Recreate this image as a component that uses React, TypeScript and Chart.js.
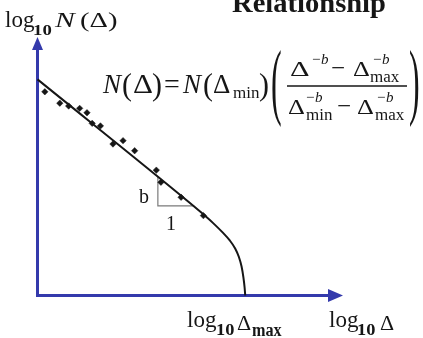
import React, { useEffect, useRef } from 'react';
import { Chart, registerables } from 'chart.js';

Chart.register(...registerables);

// Fitted curve (log10 Δ vs log10 N(Δ)), abstract units
const curveX = [0, 5.0, 5.4, 5.75, 6.05, 6.3, 6.47, 6.59, 6.68, 6.74, 6.78, 6.8];
const curveY = [8.36, 3.57, 3.17, 2.8, 2.45, 2.12, 1.82, 1.5, 1.12, 0.7, 0.3, 0];

// Observed data points (diamonds)
const obsX = [0.24, 0.73, 1.02, 1.38, 1.62, 1.79, 2.06, 2.47, 2.8, 3.18, 3.89, 4.04, 4.7, 5.43];
const obsY = [7.88, 7.44, 7.33, 7.24, 7.07, 6.66, 6.56, 5.86, 5.99, 5.6, 4.85, 4.38, 3.8, 3.09];

// Slope triangle
const triX = [3.94, 3.94, 5.13];
const triY = [4.6, 3.47, 3.47];

// Axis extents
const axisMin = 0;
const axisMax = 10;

const SERIF = '"Liberation Serif", "DejaVu Serif", serif';
const AXIS_BLUE = 'rgb(52, 58, 172)';
const INK = '#161616';

function txt(
  ctx: CanvasRenderingContext2D,
  s: string,
  x: number,
  y: number,
  size: number,
  o: { italic?: boolean; bold?: boolean; sx?: number; align?: CanvasTextAlign } = {}
) {
  ctx.save();
  ctx.font = `${o.italic ? 'italic ' : ''}${o.bold ? 'bold ' : ''}${size}px ${SERIF}`;
  ctx.fillStyle = INK;
  ctx.textBaseline = 'alphabetic';
  ctx.textAlign = o.align || 'left';
  ctx.translate(x, y);
  ctx.scale(o.sx || 1, 1);
  ctx.fillText(s, 0, 0);
  ctx.restore();
}

function paren(ctx: CanvasRenderingContext2D, ch: string, x: number, yTop: number, yBot: number, size = 30) {
  ctx.save();
  ctx.font = `${size}px ${SERIF}`;
  ctx.fillStyle = INK;
  ctx.textBaseline = 'alphabetic';
  const m = ctx.measureText(ch);
  const asc = m.actualBoundingBoxAscent;
  const desc = m.actualBoundingBoxDescent;
  const sc = (yBot - yTop) / (asc + desc);
  ctx.translate(x, yTop);
  ctx.scale(1, sc);
  ctx.fillText(ch, 0, asc);
  ctx.restore();
}

const overlay = {
  id: 'overlay',
  beforeDatasetsDraw(chart: any) {
    const ctx: CanvasRenderingContext2D = chart.ctx;
    const xs = chart.scales.x;
    const ys = chart.scales.y;
    const x0 = xs.getPixelForValue(axisMin);
    const y0 = ys.getPixelForValue(axisMin);
    const xTip = xs.getPixelForValue(axisMax);
    const yTip = ys.getPixelForValue(axisMax);
    ctx.save();
    ctx.strokeStyle = AXIS_BLUE;
    ctx.fillStyle = AXIS_BLUE;
    ctx.lineWidth = 3;
    ctx.lineCap = 'butt';
    ctx.beginPath();
    ctx.moveTo(x0, yTip + 10);
    ctx.lineTo(x0, y0);
    ctx.lineTo(xTip - 12, y0);
    ctx.stroke();
    // y arrow head
    ctx.beginPath();
    ctx.moveTo(x0, yTip);
    ctx.lineTo(x0 - 5.5, yTip + 13);
    ctx.lineTo(x0 + 5.5, yTip + 13);
    ctx.closePath();
    ctx.fill();
    // x arrow head
    ctx.beginPath();
    ctx.moveTo(xTip, y0);
    ctx.lineTo(xTip - 15, y0 - 6.5);
    ctx.lineTo(xTip - 15, y0 + 6.5);
    ctx.closePath();
    ctx.fill();
    ctx.restore();
  },
  afterDatasetsDraw(chart: any) {
    const ctx: CanvasRenderingContext2D = chart.ctx;
    // Title (cut at top)
    txt(ctx, 'Relationship', 232, 12, 28, { bold: true, sx: 1.02 });

    // y-axis label
    txt(ctx, 'log', 5, 27, 23);
    txt(ctx, '10', 33, 35, 15, { bold: true, sx: 1.25 });
    txt(ctx, 'N', 55, 27, 22, { italic: true, sx: 1.35 });
    txt(ctx, '(Δ)', 80, 27, 22, { sx: 1.3 });

    // x-axis labels
    txt(ctx, 'log', 187, 327, 23);
    txt(ctx, '10', 216, 335, 16, { bold: true, sx: 1.15 });
    txt(ctx, 'Δ', 237, 330, 20, { sx: 1.1 });
    txt(ctx, 'max', 252, 336, 18, { bold: true, sx: 0.9 });

    txt(ctx, 'log', 329, 327, 23);
    txt(ctx, '10', 357, 335, 16, { bold: true, sx: 1.15 });
    txt(ctx, 'Δ', 380, 330, 20, { sx: 1.1 });

    // slope labels
    txt(ctx, 'b', 144, 203, 20, { align: 'center' });
    txt(ctx, '1', 171, 230, 20, { align: 'center' });

    // formula
    txt(ctx, 'N', 103, 93, 27, { italic: true });
    paren(ctx, '(', 122, 72, 102);
    txt(ctx, 'Δ', 133, 93, 27, { sx: 1.15 });
    paren(ctx, ')', 152, 72, 102);
    txt(ctx, '=', 164, 93, 28);
    txt(ctx, 'N', 183, 93, 27, { italic: true });
    paren(ctx, '(', 203, 72, 102);
    txt(ctx, 'Δ', 213, 93, 27, { sx: 1.0 });
    txt(ctx, 'min', 233, 98, 17);
    paren(ctx, ')', 259, 72, 102);

    paren(ctx, '(', 271, 48, 128, 32);
    paren(ctx, ')', 409, 48, 128, 32);

    ctx.save();
    ctx.strokeStyle = INK;
    ctx.lineWidth = 1.6;
    ctx.beginPath();
    ctx.moveTo(287, 86);
    ctx.lineTo(407, 86);
    ctx.stroke();
    ctx.restore();

    // numerator
    txt(ctx, 'Δ', 290, 76, 21, { sx: 1.45 });
    txt(ctx, '−', 312, 64, 15);
    txt(ctx, 'b', 321, 64, 15, { italic: true });
    txt(ctx, '−', 331, 76, 25);
    txt(ctx, 'Δ', 353, 76, 21, { sx: 1.25 });
    txt(ctx, '−', 373, 64, 15);
    txt(ctx, 'b', 382, 64, 15, { italic: true });
    txt(ctx, 'max', 370, 82, 17);

    // denominator
    txt(ctx, 'Δ', 288, 114, 21, { sx: 1.25 });
    txt(ctx, '−', 306, 102, 15);
    txt(ctx, 'b', 315, 102, 15, { italic: true });
    txt(ctx, 'min', 306, 120, 17);
    txt(ctx, '−', 337, 114, 25);
    txt(ctx, 'Δ', 357, 114, 21, { sx: 1.25 });
    txt(ctx, '−', 377, 102, 15);
    txt(ctx, 'b', 386, 102, 15, { italic: true });
    txt(ctx, 'max', 375, 120, 17);
  },
};

export default function App() {
  const ref = useRef<HTMLCanvasElement>(null);

  useEffect(() => {
    if (!ref.current) return;
    const chart = new Chart(ref.current, {
      type: 'scatter',
      data: {
        datasets: [
          {
            type: 'line',
            data: curveX.map((x, i) => ({ x, y: curveY[i] })),
            borderColor: INK,
            borderWidth: 2,
            pointRadius: 0,
            fill: false,
            cubicInterpolationMode: 'monotone',
            clip: false,
          } as any,
          {
            data: obsX.map((x, i) => ({ x, y: obsY[i] })),
            pointStyle: 'rectRot',
            pointRadius: 3.2,
            backgroundColor: INK,
            borderColor: INK,
            borderWidth: 0.5,
            clip: false,
          } as any,
          {
            type: 'line',
            data: triX.map((x, i) => ({ x, y: triY[i] })),
            borderColor: '#7a7a7a',
            borderWidth: 1.2,
            pointRadius: 0,
            tension: 0,
            fill: false,
            clip: false,
          } as any,
        ],
      },
      options: {
        responsive: false,
        animation: false,
        events: [],
        layout: { padding: { left: 37.5, right: 80, top: 37, bottom: 42.5 } },
        plugins: { legend: { display: false }, tooltip: { enabled: false }, title: { display: false } },
        scales: {
          x: { type: 'linear', min: axisMin, max: axisMax, display: false },
          y: { type: 'linear', min: axisMin, max: axisMax, display: false },
        },
      },
      plugins: [overlay],
    });
    return () => chart.destroy();
  }, []);

  return (
    <div style={{ position: 'fixed', left: 0, top: 0, width: 423, height: 338, background: '#fff' }}>
      <canvas ref={ref} width={423} height={338} style={{ display: 'block', width: 423, height: 338 }} />
    </div>
  );
}
